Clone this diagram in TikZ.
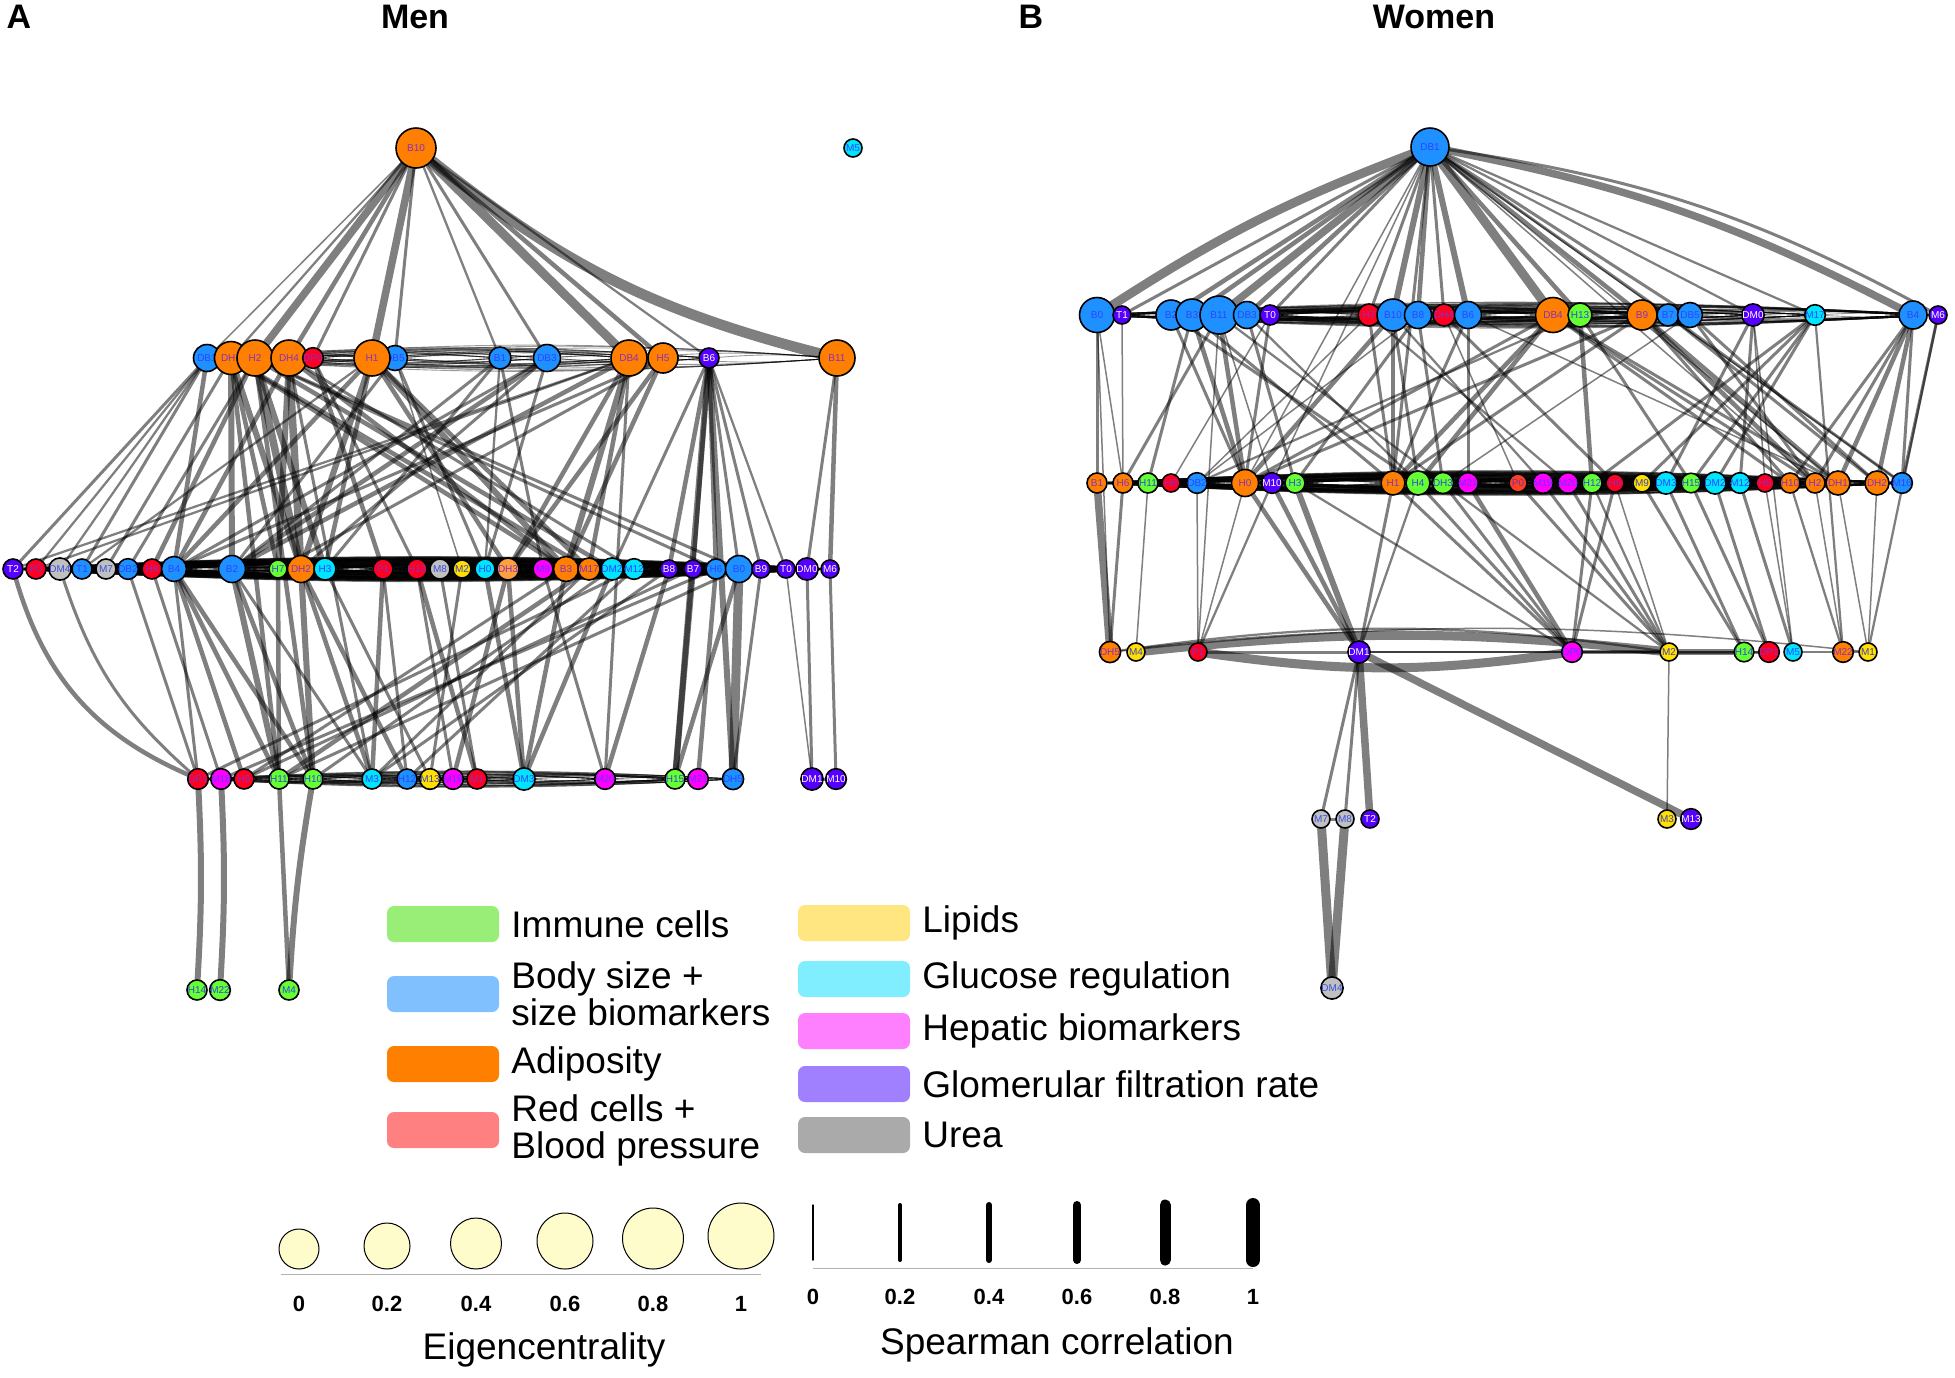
\documentclass[tikz,border=0pt]{standalone}
\usepackage{fontspec}
\setmainfont{Liberation Sans}
\usetikzlibrary{backgrounds}

% node fill colours
\definecolor{cI}{HTML}{66FF33}
\definecolor{cB}{HTML}{1E90FF}
\definecolor{cA}{HTML}{FF7F00}
\definecolor{cR}{HTML}{FF0022}
\definecolor{cL}{HTML}{FFE000}
\definecolor{cG}{HTML}{00E5FF}
\definecolor{cH}{HTML}{FF00FF}
\definecolor{cF}{HTML}{5500FF}
\definecolor{cU}{HTML}{C0C0C0}
\definecolor{cO}{HTML}{FFA040}
\definecolor{cP}{HTML}{FF4020}
% node text colours
\definecolor{tI}{HTML}{2E4BD8}
\definecolor{tB}{HTML}{2848FF}
\definecolor{tA}{HTML}{8A2FC0}
\definecolor{tR}{HTML}{8A2FC0}
\definecolor{tL}{HTML}{4040C0}
\definecolor{tG}{HTML}{2848FF}
\definecolor{tH}{HTML}{7030FF}
\definecolor{tF}{HTML}{FFFFFF}
\definecolor{tU}{HTML}{3A50E0}
\definecolor{tO}{HTML}{8A2FC0}
\definecolor{tP}{HTML}{7030B0}
% legend colours
\definecolor{lI}{HTML}{99EE77}
\definecolor{lB}{HTML}{80C0FF}
\definecolor{lA}{HTML}{FF7F00}
\definecolor{lR}{HTML}{FF8080}
\definecolor{lL}{HTML}{FFE680}
\definecolor{lG}{HTML}{80EEFF}
\definecolor{lH}{HTML}{FF80FF}
\definecolor{lF}{HTML}{A080FF}
\definecolor{lU}{HTML}{AAAAAA}
\definecolor{eig}{HTML}{FFFCCC}

% all pairs of one row, bent alternately
\newcommand{\rowbundle}[3]{%
  \foreach \a [count=\i] in {#2} {
    \foreach \b [count=\j] in {#2} {
      \ifnum\i<\j
        \ifodd\numexpr\i+\j\relax
          \draw[bund] (#1\a) to[bend left=#3] (#1\b);
        \else
          \draw[bund] (#1\a) to[bend right=#3] (#1\b);
        \fi
      \fi
    }
  }}

\begin{document}
\begin{tikzpicture}[x=1pt, y=-1pt,
  vtx/.style={circle, draw=black, line width=1.6pt, inner sep=0pt, font=\fontsize{10}{10}\selectfont},
  lnk/.style={draw=black, draw opacity=0.5, line cap=round, line width=1.5*#1 pt},
  bund/.style={draw=black, draw opacity=0.4, line width=0.9pt},
  swatch/.style={rounded corners=7pt, minimum width=112pt, minimum height=36pt, inner sep=0pt},
  legtxt/.style={anchor=west, font=\fontsize{37}{37}\selectfont, align=left, inner sep=0pt, label distance=12pt},
  ttl/.style={font=\fontsize{34}{34}\selectfont\bfseries},
  tick/.style={font=\fontsize{22}{22}\selectfont\bfseries}]

\useasboundingbox (0,0) rectangle (1955,1377);

% Panel titles
\path
(19,17) node [ttl] (ttlA) {A}
(415,17) node [ttl] (ttlM) {Men}
(1031,17) node [ttl] (ttlB) {B}
(1434,17) node [ttl] (ttlW) {Women};

%
% Men network
%

\node[vtx, fill=cA, text=tA, minimum size=40pt] (mB10) at (416,148) {B10};
\node[vtx, fill=cG, text=tG, minimum size=18pt] (mM5) at (853,148) {M5};

% top row
\foreach \n/\x/\c/\s in {DB1/207/B/27, DH1/231/A/33, H2/255/A/36, DH4/289/A/36, DP0/313/R/18,
  DB5/395/B/25, H1/372/A/36, B1/500/B/22, DB3/547/B/27, DB4/629/A/36, H5/663/A/30,
  B6/709/F/20, B11/837/A/36}
  \node[vtx, fill=c\c, text=t\c, minimum size=\s pt] (m\n) at (\x,358) {\n};

% middle row
\foreach \n/\x/\c/\s in {T2/13/F/20, P0/36/R/20, DM4/60/U/20, T1/82/B/20, M7/106/U/20,
  DB2/128/B/20, H8/152/R/20, B4/174/B/25, B2/232/B/27, H7/278/I/18, DH2/301/A/27,
  H3/325/G/22, P1/383/R/20, H13/417/R/20, M8/440/U/20, M2/462/L/18, H0/485/G/20,
  DH3/508/O/22, M9/543/H/20, B3/566/A/25, M17/589/A/22, DM2/612/G/20, M12/634/G/20,
  B8/669/F/18, B7/693/F/18, H6/716/B/20, B0/739/B/27, B9/761/F/18, T0/786/F/18,
  DM0/807/F/18, M6/830/F/18}
  \node[vtx, fill=c\c, text=t\c, minimum size=\s pt] (m\n) at (\x,569) {\n};

% bottom row
\foreach \n/\x/\c in {DP1/198/R, M18/221/H, H9/244/R, H11/279/I, H10/313/I, M3/372/G,
  H12/407/B, M13/430/L, M19/453/H, M1/477/R, DM3/524/G, M20/605/H, H15/675/I,
  M21/698/H, DH5/733/B, DM1/812/F, M10/836/F}
  \node[vtx, fill=c\c, text=t\c, minimum size=20pt] (m\n) at (\x,779) {\n};

% lowest row
\foreach \n/\x in {H14/197, M22/220, M4/289}
  \node[vtx, fill=cI, text=tI, minimum size=20pt] (m\n) at (\x,990) {\n};

%
% Women network
%

\node[vtx, fill=cB, text=tB, minimum size=38pt] (wDB1) at (1430,147) {DB1};

% top row
\foreach \n/\x/\c/\s in {B0/1097/B/35, T1/1122/F/18, B2/1171/B/30, B3/1192/B/32,
  B11/1219/B/38, DB3/1247/B/27, T0/1270/F/20, H7/1369/R/22, B10/1393/B/32, B8/1418/B/27,
  DH4/1444/R/22, B6/1468/B/27, DB4/1553/A/35, H13/1580/I/24, B9/1642/A/30, B7/1668/B/22,
  DB5/1690/B/25, DM0/1753/F/20, M17/1815/G/20, B4/1913/B/28, M6/1938/F/18}
  \node[vtx, fill=c\c, text=t\c, minimum size=\s pt] (w\n) at (\x,315) {\n};

% middle row
\foreach \n/\x/\c/\s in {B1/1097/A/20, H6/1123/A/20, H11/1148/I/20, H8/1171/R/18,
  DB2/1197/B/20, H0/1245/A/27, M10/1272/F/20, H3/1295/I/20, H1/1393/A/24, H4/1418/I/24,
  DH3/1443/I/20, M21/1468/H/20, P0/1518/P/18, M19/1543/H/18, M20/1568/H/18,
  H12/1592/I/20, H9/1615/R/18, M9/1642/L/18, DM3/1666/G/18, H15/1691/I/18,
  DM2/1715/G/18, M12/1740/G/18, H5/1765/R/18, H10/1790/A/20, H2/1815/A/20,
  DH1/1838/A/24, DH2/1877/A/24, M16/1902/B/20}
  \node[vtx, fill=c\c, text=t\c, minimum size=\s pt] (w\n) at (\x,483) {\n};

% lower row
\foreach \n/\x/\c in {DH5/1110/A, M4/1136/L, P1/1198/R, DM1/1359/F, DP0/1572/H,
  M2/1669/L, H14/1744/I, DP1/1769/R, M5/1793/G, M22/1843/A, M1/1868/L}
  \node[vtx, fill=c\c, text=t\c, minimum size=18pt] (w\n) at (\x,652) {\n};

% lowest rows
\foreach \n/\x/\c in {M7/1321/U, M8/1345/U, T2/1370/F, M3/1667/L, M13/1691/F}
  \node[vtx, fill=c\c, text=t\c, minimum size=18pt] (w\n) at (\x,819) {\n};
\node[vtx, fill=cU, text=tU, minimum size=18pt] (wDM4) at (1332,988) {DM4};

%
% Connections
%
\begin{pgfonlayer}{background}

% Men bundles along the rows
\rowbundle{m}{DB1,DH1,H2,DH4,DP0,H1,DB5,B1,DB3,DB4,H5,B6,B11}{4}
\rowbundle{m}{T2,P0,DM4,T1,M7,DB2,H8,B4,B2,H7,DH2,H3,P1,H13,M8,M2,H0,DH3,M9,B3,M17,DM2,M12,B8,B7,H6,B0,B9,T0,DM0,M6}{3}
\rowbundle{m}{DP1,M18,H9,H11,H10,M3,H12,M13,M19,M1,DM3,M20,H15,M21,DH5}{3}

% Men B10 fan
\foreach \b/\w in {DB1/1, DH1/1.5, H2/5, DH4/3, DP0/2, H1/5, DB5/2, B1/1.5, DB3/2,
  DB4/6, H5/3, B6/1.5}
  \draw[lnk=\w] (mB10) -- (m\b);
\draw[lnk=7] (mB10) to[bend right=12] (mB11);

% Men top to middle
\foreach \a/\b/\w in {DB1/T2/2, DB1/P0/1.5, DB1/DM4/1.5, DB1/T1/2, DB1/B4/3, DH1/M7/2,
  DH1/B2/4, DH1/H7/3, DH1/DH2/4, DH1/B3/3, DH1/M17/3, H2/DB2/2, H2/H8/3, H2/DH2/5,
  H2/H3/4, H2/DM2/3, H2/B0/2, H2/H6/2, DH4/B4/3, DH4/H7/4, DH4/DH2/5, DH4/B3/3,
  DH4/M12/2, DP0/P1/3, DP0/H13/2, H1/DH2/4, H1/H3/3, H1/DH3/3, H1/B3/4, H1/M17/3,
  H1/B4/3, H1/T1/1.5, DB5/B2/2, DB5/H0/2, DB5/M2/1, B1/H3/2, B1/M9/2, B1/B2/2,
  B1/H0/1.5, DB3/B2/3, DB3/DH2/2, DB3/H0/2, DB3/B4/2, DB4/B3/4, DB4/M17/3, DB4/DH3/3,
  DB4/B2/3, DB4/P0/1.5, DB4/T2/1.5, H5/DH3/3, H5/B3/3, H5/H7/2, H5/B4/2, B6/B8/3,
  B6/B7/3, B6/H6/3, B6/B0/2, B6/B9/2, B6/T0/1.5, B6/DM2/2, B11/M6/3, B11/DM0/2}
  \draw[lnk=\w] (m\a) -- (m\b);

% Men middle and top to bottom
\foreach \a/\b/\w in {B4/H9/3, B4/H11/3, B4/H10/3, B4/DP1/2, H8/M18/2, DB2/DP1/2,
  B2/H11/4, B2/H10/3, B2/M3/2, H7/H11/3, DH2/H10/4, DH2/M3/3, DH2/H12/3, H3/M13/2,
  P1/M3/3, P1/H12/2, H13/M19/2, H13/M1/3, M8/M1/2, M2/M13/2, H0/DM3/3, DH3/DM3/3,
  DH3/M19/3, M9/M20/2, B3/DM3/3, B3/H9/2, M17/H11/3, M17/M3/2, DM2/DM3/3, DM2/H10/2,
  M12/H12/2, M12/DP1/2, B8/M20/3, B7/H15/4, H6/M21/3, B0/DH5/6, B0/H15/3, B9/DH5/2,
  DM0/DM1/2, M6/M10/2, T0/DM1/1, B8/M3/2, H6/M18/2, B7/H9/2, B0/H11/2,
  DH1/H11/3, H2/H10/3, DH4/M3/2, B6/H15/4, B6/DH5/4, DB4/M20/2}
  \draw[lnk=\w] (m\a) -- (m\b);
\draw[lnk=3] (mT2) to[bend right=25] (mDP1);
\draw[lnk=2] (mDM4) to[bend right=15] (mDP1);
\draw[lnk=2] (mDM1) -- (mM10);

% Men bottom to lowest
\draw[lnk=4] (mDP1) to[bend left=3] (mH14);
\draw[lnk=4] (mM18) to[bend left=3] (mM22);
\draw[lnk=3] (mH11) -- (mM4);
\draw[lnk=4] (mH10) to[bend right=3] (mM4);

% Women bundles along the rows
\rowbundle{w}{B0,T1,B2,B3,B11,DB3,T0,H7,B10,B8,DH4,B6,DB4,H13,B9,B7,DB5,DM0,M17,B4,M6}{3}
\rowbundle{w}{B1,H6,H11,H8,DB2,H0,M10,H3,H1,H4,DH3,M21,P0,M19,M20,H12,H9,M9,DM3,H15,DM2,M12,H5,H10,H2,DH1,DH2,M16}{3}

% Women DB1 fan
\foreach \b/\w in {T1/2, B2/3, B3/3, B11/5, DB3/3, T0/2, H7/2, B10/4, B8/3, DH4/2,
  B6/4, DB4/6, H13/3, B9/3, B7/2, DB5/2, DM0/1.5, M17/1.5}
  \draw[lnk=\w] (wDB1) -- (w\b);
\draw[lnk=6] (wDB1) to[bend right=6] (wB0);
\draw[lnk=5] (wDB1) to[bend left=8] (wB4);
\draw[lnk=2] (wDB1) to[bend left=10] (wM6);
\foreach \b/\w in {H0/1, H1/2, M10/1, DH1/1, M16/1, H2/1}
  \draw[lnk=\w] (wDB1) -- (w\b);

% Women top to middle
\foreach \a/\b/\w in {B0/B1/2, B0/H6/1, T1/H6/1, B2/H0/2, B3/H0/3, B11/H0/3, B11/H6/2,
  DB3/H3/2, B3/H11/2, B11/M10/1, T0/H0/2, T0/H8/1, H7/H1/2, H7/DB2/1, B10/H1/3,
  B10/H4/2, B10/H0/3, B8/DH3/2, B8/H3/2, DH4/H9/2, DH4/P0/1, B6/H1/2, B6/DH1/1,
  DB4/H1/3, DB4/H4/3, DB4/H10/2, DB4/H2/2, DB4/DH1/2, DB4/H0/2, H13/H12/3, H13/H15/2,
  H13/DB2/1.5, B9/H2/3, B9/DH1/3, B9/H10/2, B9/H1/2, B9/H0/2, B7/M16/2, B7/DH2/2,
  DB5/DH2/2, DB5/H2/2, DB5/DH3/1, DM0/M12/2, DM0/DM3/2, DM0/H5/1, M17/M9/2,
  M17/H15/2, M17/DM2/2, M17/H12/2, B4/DH2/3, B4/DH1/3, B4/M16/2, B4/H10/2, M6/M16/2,
  B4/H2/2, B11/DH3/1.5, B2/H4/2, B3/H1/2, DB3/H4/1.5, B6/M21/2, B10/M19/1.5,
  H7/M20/1.5, B8/DB2/1}
  \draw[lnk=\w] (w\a) -- (w\b);

% Women middle and top to lower
\foreach \a/\b/\w in {B1/DH5/5, H6/DH5/2, H11/M4/1, DB2/P1/1, H0/DM1/3, M10/DM1/3,
  H3/DM1/4, H1/DP0/2, H4/DP0/2, DH3/DP0/2, M21/DP0/3, P0/M2/2, M19/M2/2, M20/M2/2,
  H12/M2/1.5, H9/M2/1, M9/H14/2, DM3/H14/2, H15/DP1/2, DM2/DP1/2, M12/M5/2, H5/M5/1,
  H10/M22/1.5, H2/M22/1, DH1/M1/1, DH2/M1/1, H1/DM1/2, H4/DM1/1.5, DH3/M2/1.5,
  H0/P1/1, M10/P1/1.5, H3/DP0/1.5, H12/DP0/2, H9/DP0/2, B0/DH5/1, B11/P1/1,
  DM0/M5/1, M17/M22/1.5, M6/M1/1.5}
  \draw[lnk=\w] (w\a) -- (w\b);

% Women lower row
\draw[lnk=6] (wP1) to[bend right=8] (wDP0);
\draw[lnk=6] (wM4) to[bend left=6] (wM2);
\draw[lnk=1.5] (wDH5) to[bend left=8] (wM2);
\draw[lnk=1] (wDH5) to[bend left=6] (wM1);
\foreach \a/\b/\w in {DM1/M2/1.5, P1/DM1/2, DP0/M2/3, DP0/DP1/1, M2/H14/4, M2/DP1/2,
  M5/M22/1, M22/M1/1, DM1/DP0/1.5}
  \draw[lnk=\w] (w\a) -- (w\b);

% Women lower to lowest
\foreach \a/\b/\w in {DM1/M7/2, DM1/M8/2, DM1/T2/5, DM1/M13/5, M2/M3/1, M7/DM4/6,
  M8/DM4/6, M7/M8/2}
  \draw[lnk=\w] (w\a) -- (w\b);

\end{pgfonlayer}

%
% Legend: groups
%
\foreach \c/\y/\t in {I/924/Immune cells, B/994/{Body size +\\size biomarkers},
  A/1064/Adiposity, R/1130/{Red cells +\\Blood pressure}}
  \node[swatch, fill=l\c, label={[legtxt]east:\t}] (sw\c) at (443,\y) {};
\foreach \c/\y/\t in {L/923/Lipids, G/979/Glucose regulation, H/1031/Hepatic biomarkers,
  F/1084/Glomerular filtration rate, U/1135/Urea}
  \node[swatch, fill=l\c, label={[legtxt]east:\t}] (sw\c) at (854,\y) {};

%
% Legend: eigencentrality
%
\draw[gray!60, line width=1pt] (281,1274) coordinate (eigL) -- (761,1274) coordinate (eigR);
\foreach \x/\r/\v [count=\k] in {299/20/0, 387/23/0.2, 476/25.5/0.4, 565/28/0.6, 653/30.5/0.8, 741/33/1} {
  \filldraw[fill=eig, draw=black, line width=1pt] (\x,1274-\r-5) circle [radius=\r];
  \node[tick] (eig\k) at (\x,1304) {\v};
}
\node[font=\fontsize{37}{37}\selectfont] (eigT) at (544,1350) {Eigencentrality};

%
% Legend: Spearman correlation
%
\draw[gray!60, line width=1pt] (813,1268) coordinate (spL) -- (1253,1268) coordinate (spR);
\foreach \x/\w/\v [count=\k] in {813/1.5/0, 900/4/0.2, 989/6/0.4, 1077/8/0.6, 1165/11/0.8, 1253/14/1} {
  \draw[line width=\w pt, line cap=round] (\x,1205) -- (\x,1260);
  \node[tick] (sp\k) at (\x,1297) {\v};
}
\node[font=\fontsize{37}{37}\selectfont] (spT) at (1057,1345) {Spearman correlation};

\end{tikzpicture}
\end{document}
